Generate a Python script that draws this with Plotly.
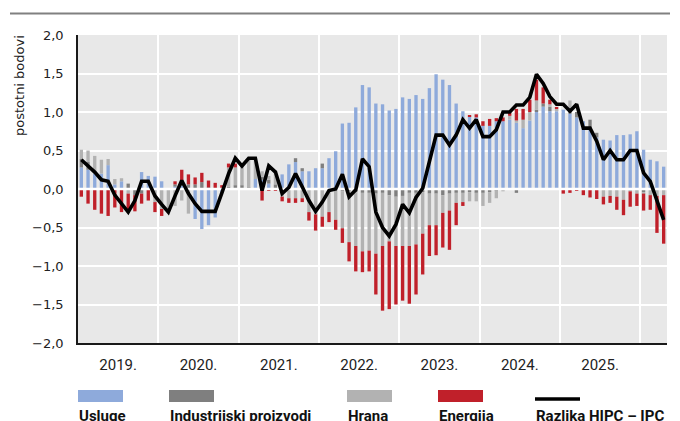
import plotly.graph_objects as go

# ---------------- data ----------------
months = [f"{y}-{m:02d}" for y in range(2019, 2027) for m in range(1, 13)][:88]

usluge = [0.28, 0.25, 0.20, 0.20, 0.31, 0.06, 0.10, 0.00, 0.00, 0.22, 0.17, 0.16,
          0.10, 0.00, 0.03, 0.04, 0.00, -0.39, -0.52, -0.47, -0.37, -0.05, 0.00, 0.00,
          0.00, 0.00, 0.13, 0.12, 0.07, 0.00, 0.19, 0.32, 0.35, 0.23, 0.23, 0.27,
          0.27, 0.40, 0.49, 0.85, 0.86, 1.06, 1.35, 1.32, 1.11, 1.10, 1.02, 1.04,
          1.19, 1.17, 1.22, 1.17, 1.31, 1.49, 1.42, 1.35, 1.11, 1.01, 0.94, 0.93,
          0.82, 0.82, 0.88, 0.88, 0.90, 0.86, 0.79, 0.89, 1.01, 1.07, 1.01, 1.01,
          1.03, 0.98, 0.93, 0.88, 0.79, 0.67, 0.64, 0.63, 0.70, 0.70, 0.71, 0.75,
          0.51, 0.38, 0.36, 0.29]

industrijski = [0.11, 0.10, 0.00, 0.00, 0.00, 0.00, 0.00, 0.07, -0.08, -0.06, 0.00, 0.00,
                0.00, 0.00, 0.03, 0.07, 0.06, 0.06, 0.09, 0.02, 0.00, 0.00, 0.03, 0.05,
                0.05, 0.02, 0.00, 0.04, 0.05, 0.06, 0.00, 0.00, 0.05, 0.04, 0.00, 0.00,
                0.06, 0.00, 0.00, -0.03, -0.03, -0.04, -0.05, -0.05, -0.06, -0.05, -0.08, -0.10,
                -0.09, -0.05, -0.05, -0.04, -0.06, -0.06, -0.08, -0.06, -0.05, -0.05, -0.04, -0.05,
                -0.05, -0.04, -0.02, 0.00, 0.00, -0.05, 0.00, 0.00, 0.02, 0.04, 0.06, 0.00,
                0.00, 0.07, 0.07, 0.00, 0.11, 0.06, 0.00, 0.00, 0.00, 0.00, 0.00, 0.00,
                -0.04, 0.00, 0.00, 0.00]

hrana = [0.12, 0.15, 0.23, 0.18, 0.08, 0.07, 0.04, -0.06, 0.00, 0.00, 0.00, -0.17,
         -0.26, -0.28, -0.22, -0.15, -0.32, 0.00, 0.00, 0.00, 0.00, 0.00, 0.25, 0.23,
         0.26, 0.36, 0.28, 0.07, 0.05, 0.18, -0.10, -0.12, -0.12, -0.12, -0.30, -0.33,
         -0.36, -0.30, -0.40, -0.48, -0.66, -0.70, -0.76, -0.75, -0.78, -0.69, -0.60, -0.64,
         -0.65, -0.69, -0.67, -0.54, -0.41, -0.41, -0.23, -0.22, -0.13, -0.12, -0.12, -0.11,
         -0.17, -0.14, -0.10, -0.03, 0.05, 0.03, 0.11, 0.11, 0.12, 0.00, 0.03, 0.03,
         0.00, 0.10, 0.00, 0.00, 0.00, 0.00, -0.10, -0.09, -0.10, -0.14, -0.03, -0.06,
         -0.02, -0.08, -0.09, -0.08]

energija = [-0.10, -0.19, -0.27, -0.32, -0.35, -0.24, -0.30, -0.24, -0.21, -0.13, -0.15, -0.13,
            -0.09, 0.00, 0.04, 0.14, 0.13, 0.09, 0.12, 0.09, 0.08, 0.05, 0.05, 0.05,
            0.00, 0.00, 0.00, -0.15, -0.02, -0.02, -0.06, -0.06, -0.06, -0.05, -0.11, -0.21,
            -0.13, -0.13, -0.13, -0.19, -0.25, -0.33, -0.27, -0.27, -0.53, -0.84, -0.88, -0.76,
            -0.71, -0.75, -0.65, -0.53, -0.40, -0.39, -0.45, -0.51, -0.29, -0.05, 0.02, 0.04,
            0.06, 0.09, 0.04, 0.05, 0.04, 0.15, 0.14, 0.16, 0.27, 0.21, 0.06, 0.02,
            -0.06, -0.05, -0.02, -0.08, -0.11, -0.13, -0.10, -0.09, -0.17, -0.20, -0.20, -0.16,
            -0.22, -0.19, -0.48, -0.63]

razlika = [0.38, 0.30, 0.22, 0.12, 0.10, -0.08, -0.19, -0.30, -0.15, 0.10, 0.10, -0.09,
           -0.20, -0.30, -0.09, 0.11, -0.06, -0.19, -0.29, -0.29, -0.29, -0.05, 0.20, 0.40,
           0.30, 0.40, 0.40, -0.02, 0.30, 0.22, -0.06, 0.02, 0.20, 0.03, -0.15, -0.29,
           -0.17, -0.02, 0.00, 0.19, -0.10, -0.01, 0.39, 0.29, -0.30, -0.50, -0.61, -0.46,
           -0.20, -0.31, -0.11, 0.01, 0.36, 0.70, 0.70, 0.57, 0.70, 0.90, 0.79, 0.90,
           0.68, 0.68, 0.77, 1.00, 1.00, 1.09, 1.09, 1.19, 1.49, 1.37, 1.20, 1.10,
           1.10, 1.01, 1.10, 0.79, 0.79, 0.62, 0.38, 0.50, 0.38, 0.38, 0.50, 0.50,
           0.21, 0.10, -0.15, -0.40]

series_names = ["Usluge", "Industrijski proizvodi", "Hrana", "Energija"]
series_values = [usluge, industrijski, hrana, energija]
series_colors = ["#8eaadb", "#7f7f7f", "#b2b2b2", "#c0202a"]
line_name = "Razlika HIPC – IPC"
line_color = "#000000"

y_title = "postotni bodovi"
y_ticks = [-2.0, -1.5, -1.0, -0.5, 0.0, 0.5, 1.0, 1.5, 2.0]

# ---------------- positions derived from the month list ----------------
xi = list(range(len(months)))
years = sorted(set(m[:4] for m in months))
year_centers, year_labels, year_bounds = [], [], []
for y in years:
    idx = [i for i, m in enumerate(months) if m[:4] == y]
    if len(idx) == 12:
        year_centers.append(sum(idx) / len(idx))
        year_labels.append(f"{y}.")
    if idx[0] > 0:
        year_bounds.append(idx[0] - 0.5)
x_lo, x_hi = xi[0] - 0.5, xi[-1] + 0.5

# ---------------- figure ----------------
fig = go.Figure()
for name, vals, col in zip(series_names, series_values, series_colors):
    fig.add_trace(go.Bar(x=xi, y=vals, name=name, marker_color=col,
                         marker_line_width=0, width=0.5))

# white zero line (above bars, below the black line)
fig.add_trace(go.Scatter(x=[x_lo, x_hi], y=[0, 0], mode="lines",
                         line=dict(color="white", width=2.5), hoverinfo="skip",
                         showlegend=False))

fig.add_trace(go.Scatter(x=xi, y=razlika, mode="lines", name=line_name,
                         line=dict(color=line_color, width=3.6)))

L, R, T, B = 78, 667, 35, 343
W, H = R - L, B - T


def px(x):
    return (x - L) / W


def py(y):
    return (B - y) / H


fig.update_layout(
    width=680, height=421,
    margin=dict(l=L, r=680 - R, t=T, b=421 - B, autoexpand=False),
    paper_bgcolor="white", plot_bgcolor="#e8e8e8",
    barmode="relative", showlegend=False,
    separators=", ",
    font=dict(family="DejaVu Sans", size=13, color="#222222"),
    xaxis=dict(range=[x_lo, x_hi], tickmode="array", tickvals=year_centers,
               ticktext=year_labels, showgrid=False, zeroline=False, ticks="",
               showline=True, linecolor="#1a1a1a", linewidth=1.5, automargin=False,
               ticklabelstandoff=7,
               tickfont=dict(family="Roboto", size=15, color="#222222"),
               minor=dict(tickmode="array", tickvals=year_bounds, showgrid=True,
                          gridcolor="white", gridwidth=1.5, ticks="")),
    yaxis=dict(range=[-2, 2], tickmode="array", tickvals=y_ticks, tickformat=".1f",
               showgrid=True, gridcolor="white", gridwidth=1.5, zeroline=False,
               showline=True, linecolor="#1a1a1a", linewidth=1.5, ticks="",
               ticklabelstandoff=10, automargin=False,
               tickfont=dict(family="DejaVu Sans", size=13, color="#222222")),
)

shapes = [dict(type="line", xref="paper", yref="paper", x0=px(10), x1=px(670),
               y0=py(13.5), y1=py(13.5), line=dict(color="#808080", width=2))]
annotations = [dict(text=y_title, xref="paper", yref="paper", x=px(19), y=py(86),
                    textangle=-90, showarrow=False, xanchor="center", yanchor="middle",
                    font=dict(family="DejaVu Sans", size=13, color="#222222"))]

leg_x = [78, 169, 347, 438, 535]
leg_font = dict(family="Roboto", size=15, color="#111111")
for k, (name, col) in enumerate(zip(series_names, series_colors)):
    shapes.append(dict(type="rect", xref="paper", yref="paper", x0=px(leg_x[k]),
                       x1=px(leg_x[k] + 45), y0=py(402), y1=py(390),
                       fillcolor=col, line=dict(width=0)))
    annotations.append(dict(text=f"<b>{name}</b>", xref="paper", yref="paper",
                            x=px(leg_x[k]), y=py(406), xanchor="left", yanchor="top",
                            showarrow=False, font=leg_font, borderpad=0))
shapes.append(dict(type="line", xref="paper", yref="paper", x0=px(leg_x[4]),
                   x1=px(leg_x[4] + 45), y0=py(399), y1=py(399),
                   line=dict(color=line_color, width=3.5)))
annotations.append(dict(text=f"<b>{line_name}</b>", xref="paper", yref="paper",
                        x=px(leg_x[4]), y=py(406), xanchor="left", yanchor="top",
                        showarrow=False, font=leg_font, borderpad=0))

fig.update_layout(shapes=shapes, annotations=annotations)
fig.write_html("out.html", config={"displayModeBar": False},
               post_script="document.body.style.margin='0';document.body.style.overflow='hidden';")
